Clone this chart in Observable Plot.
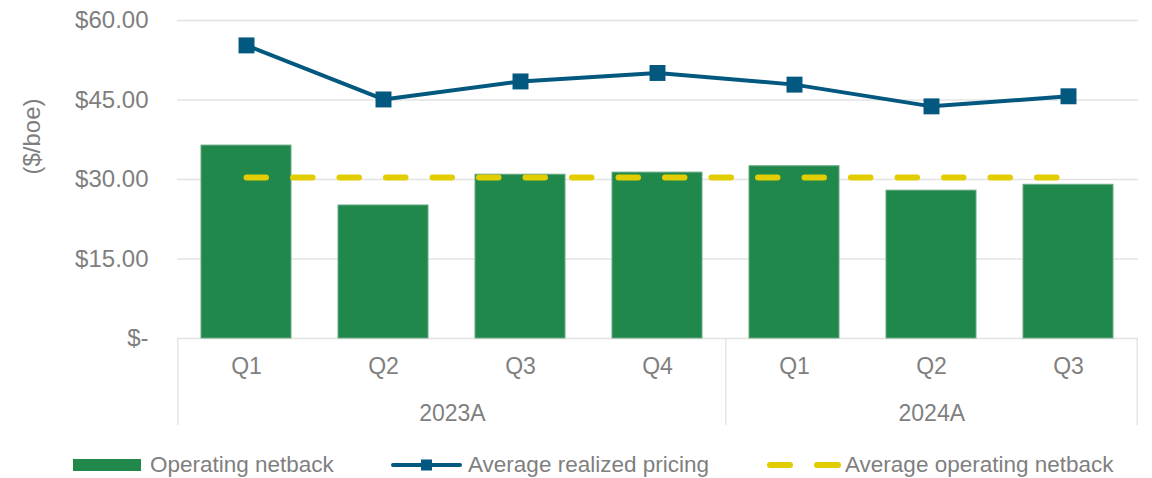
<!DOCTYPE html>
<html>
<head>
<meta charset="utf-8">
<script src="https://cdn.jsdelivr.net/npm/d3@7"></script>
<script src="https://cdn.jsdelivr.net/npm/@observablehq/plot@0.6"></script>
<style>
  html, body { margin: 0; padding: 0; background: #fff; }
  body { font-family: "Liberation Sans", Arial, sans-serif; }
  #wrap { position: relative; width: 1152px; height: 478px; overflow: hidden; }
  .legend { position: absolute; left: 0; top: 452px; height: 26px; width: 1152px; color: #7f7f7f; font-size: 22.5px; }
  .item { position: absolute; top: 0; height: 26px; display: flex; align-items: center; white-space: nowrap; }
  .item svg { display: block; }
</style>
</head>
<body>
<div id="wrap"></div>
<script>
// ---- data ----
const years = ["2023A", "2023A", "2023A", "2023A", "2024A", "2024A", "2024A"];
const quarters = ["Q1", "Q2", "Q3", "Q4", "Q1", "Q2", "Q3"];
const operatingNetback = [36.4, 25.1, 30.9, 31.3, 32.5, 27.9, 29.0];
const avgRealizedPricing = [55.3, 45.1, 48.5, 50.1, 47.9, 43.8, 45.7];
const avgOperatingNetback = [30.4, 30.4, 30.4, 30.4, 30.4, 30.4, 30.4];
const yearGroups = ["2023A", "2024A"];
const yTicks = [0, 15, 30, 45, 60];
const yTickLabels = ["$-", "$15.00", "$30.00", "$45.00", "$60.00"];
const seriesNames = ["Operating netback", "Average realized pricing", "Average operating netback"];
const yAxisLabel = "($/boe)";

// ---- style ----
const GREEN = "#1f884a", BLUE = "#03587f", YELLOW = "#e2cd00", GRAY = "#7f7f7f", GRID = "#e3e3e3";
const W = 1152, H = 440, ML = 177, MR = 14, MT = 20, MB = 102;
const PI = 0.34, PO = 0.17;
const FONT = '"Liberation Sans", Arial, sans-serif';

const keys = years.map((y, i) => `${y} ${quarters[i]}`);
const rows = keys.map((k, i) => ({
  key: k, year: years[i], q: quarters[i],
  net: operatingNetback[i], price: avgRealizedPricing[i], avg: avgOperatingNetback[i]
}));
const step = (W - ML - MR) / (keys.length - PI + 2 * PO);
const frameH = H - MT - MB;

const groupMarks = [];
yearGroups.forEach((yr) => {
  const ks = keys.filter((k, i) => years[i] === yr);
  groupMarks.push(Plot.text([yr], {
    x: () => ks[0], frameAnchor: "bottom", dy: 75, dx: (ks.length - 1) * step / 2,
    textAnchor: "middle", lineAnchor: "middle",
    fill: GRAY, fontSize: 23
  }));
  groupMarks.push(Plot.ruleX([ks[0]], {
    x: d => d, dx: -step / 2, stroke: "#d9d9d9", strokeWidth: 1,
    insetTop: frameH, insetBottom: -87
  }));
});
groupMarks.push(Plot.ruleX([keys[keys.length - 1]], {
  x: d => d, dx: step / 2, stroke: "#d9d9d9", strokeWidth: 1,
  insetTop: frameH, insetBottom: -87
}));

const chart = Plot.plot({
  width: W, height: H,
  marginLeft: ML, marginRight: MR, marginTop: MT, marginBottom: MB,
  style: { fontFamily: FONT, fontSize: "22px", color: GRAY, background: "white", overflow: "visible" },
  x: { type: "band", domain: keys, paddingInner: PI, paddingOuter: PO },
  y: { domain: [0, 60] },
  marks: [
    Plot.gridY(yTicks, { stroke: GRID, strokeOpacity: 1, strokeWidth: 1.5 }),
    Plot.axisY(yTicks, {
      tickSize: 0, tickPadding: 29, fontSize: 24, fill: GRAY, label: null,
      tickFormat: d => yTickLabels[yTicks.indexOf(d)]
    }),
    Plot.axisX({
      tickSize: 0, tickPadding: 19, fontSize: 23, fill: GRAY, label: null,
      tickFormat: d => d.split(" ")[1]
    }),
    Plot.text([yAxisLabel], {
      frameAnchor: "top-left", textAnchor: "middle", lineAnchor: "middle",
      rotate: -90, dx: -145, dy: 116, fill: GRAY, fontSize: 24
    }),
    ...groupMarks,
    Plot.barY(rows, { x: "key", y: "net", fill: GREEN, stroke: "#6aab84", strokeWidth: 1 }),
    Plot.line(rows, {
      x: "key", y: "avg", stroke: YELLOW, strokeWidth: 6,
      strokeDasharray: "19.5 27", strokeLinecap: "round"
    }),
    Plot.line(rows, { x: "key", y: "price", stroke: BLUE, strokeWidth: 4 }),
    Plot.dot(rows, { x: "key", y: "price", symbol: "square", r: 9, fill: BLUE, stroke: "none" })
  ]
});

const wrap = document.getElementById("wrap");
wrap.appendChild(chart);

// ---- legend ----
const legend = document.createElement("div");
legend.className = "legend";
legend.innerHTML = `
  <div class="item" style="left:73px">
    <svg width="68" height="12"><rect x="0" y="0" width="68" height="12" fill="${GREEN}"/></svg>
    <span style="margin-left:9px">${seriesNames[0]}</span>
  </div>
  <div class="item" style="left:391px">
    <svg width="71" height="14"><line x1="2" y1="7" x2="69" y2="7" stroke="${BLUE}" stroke-width="4" stroke-linecap="round"/><rect x="30" y="1.5" width="11" height="11" fill="${BLUE}"/></svg>
    <span style="margin-left:6px">${seriesNames[1]}</span>
  </div>
  <div class="item" style="left:767px">
    <svg width="74" height="8"><line x1="3" y1="4" x2="23" y2="4" stroke="${YELLOW}" stroke-width="6" stroke-linecap="round"/><line x1="50" y1="4" x2="71" y2="4" stroke="${YELLOW}" stroke-width="6" stroke-linecap="round"/></svg>
    <span style="margin-left:4px">${seriesNames[2]}</span>
  </div>`;
wrap.appendChild(legend);
</script>
</body>
</html>
